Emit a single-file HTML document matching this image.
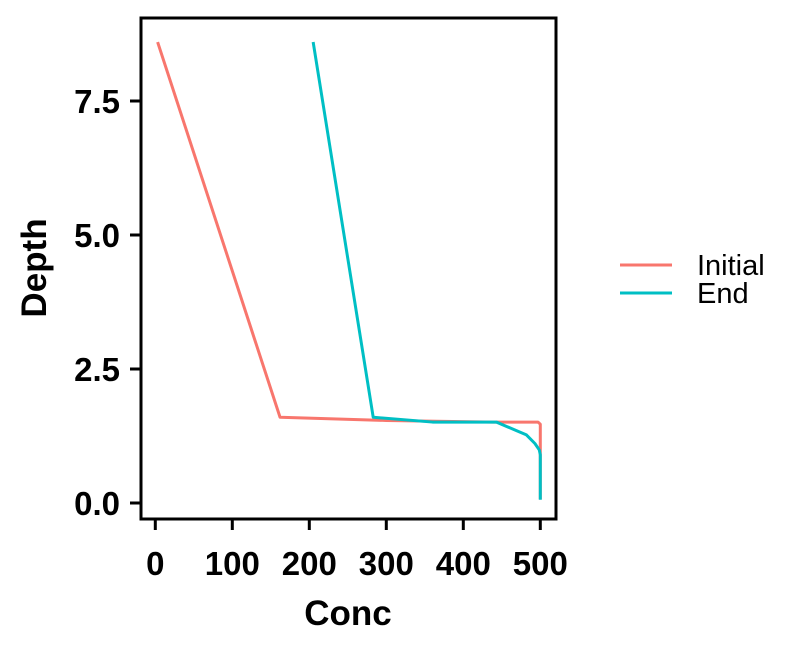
<!DOCTYPE html>
<html><head><meta charset="utf-8"><style>
body{margin:0;background:#fff;font-family:"Liberation Sans",Arial,sans-serif}
</style></head><body>
<svg id="chart" width="800" height="650" xmlns="http://www.w3.org/2000/svg">
<rect x="141" y="18" width="415" height="501" fill="none" stroke="#000" stroke-width="3"/>
<g id="xt"></g>
<g id="yt"></g>
<g id="series"></g>
<text x="348" y="625" text-anchor="middle" font-size="35" font-weight="bold">Conc</text>
<text transform="translate(46,268) rotate(-90)" text-anchor="middle" font-size="35" font-weight="bold">Depth</text>
<g>
<line x1="620" y1="265" x2="672" y2="265" stroke="#F8766D" stroke-width="3"/>
<text x="697" y="275" font-size="29">Initial</text>
<line x1="620" y1="293" x2="672" y2="293" stroke="#00BFC4" stroke-width="3"/>
<text x="697" y="303" font-size="29">End</text>
</g>
</svg>
<script>
const xTicks=[0,100,200,300,400,500];
const yTicks=[0,2.5,5,7.5];
const yTickLabels=["0.0","2.5","5.0","7.5"];
const initialConc=[3,162,300,440,497,500,500];
const initialDepth=[8.6,1.6,1.54,1.51,1.51,1.47,0.07];
const endConc=[205,283,360,443,469,482,493,498.7,500,500];
const endDepth=[8.6,1.6,1.51,1.51,1.35,1.27,1.11,0.99,0.9,0.06];
const sx=v=>155.3+v*0.77;
const sy=v=>503-v*53.6;
const NS="http://www.w3.org/2000/svg";
function mk(t,a,p){const e=document.createElementNS(NS,t);for(const k in a)e.setAttribute(k,a[k]);p.appendChild(e);return e;}
const xt=document.getElementById('xt');
xTicks.forEach(v=>{
 const l=mk('line',{x1:sx(v),x2:sx(v),y1:520,y2:530,stroke:'#000','stroke-width':3},xt);
 
 
 const t=mk('text',{x:sx(v),y:575,'text-anchor':'middle','font-size':33,'font-weight':'bold'},xt);
 t.textContent=v;
 
 
});
const yt=document.getElementById('yt');
yTicks.forEach((v,i)=>{
 const l=mk('line',{x1:130,x2:140,y1:sy(v),y2:sy(v),stroke:'#000','stroke-width':3},yt);
 
 
 const t=mk('text',{x:120,y:sy(v)+12,'text-anchor':'end','font-size':33,'font-weight':'bold'},yt);
 t.textContent=yTickLabels[i];
 
 
});
const sg=document.getElementById('series');
function line(xs,ys,c,name){
 const p=mk('polyline',{points:xs.map((x,i)=>sx(x)+','+sy(ys[i])).join(' '),fill:'none',stroke:c,'stroke-width':3,'stroke-linejoin':'round'},sg);
 
 
}
line(initialConc,initialDepth,'#F8766D','initial-line');
line(endConc,endDepth,'#00BFC4','end-line');
</script>
</body></html>
